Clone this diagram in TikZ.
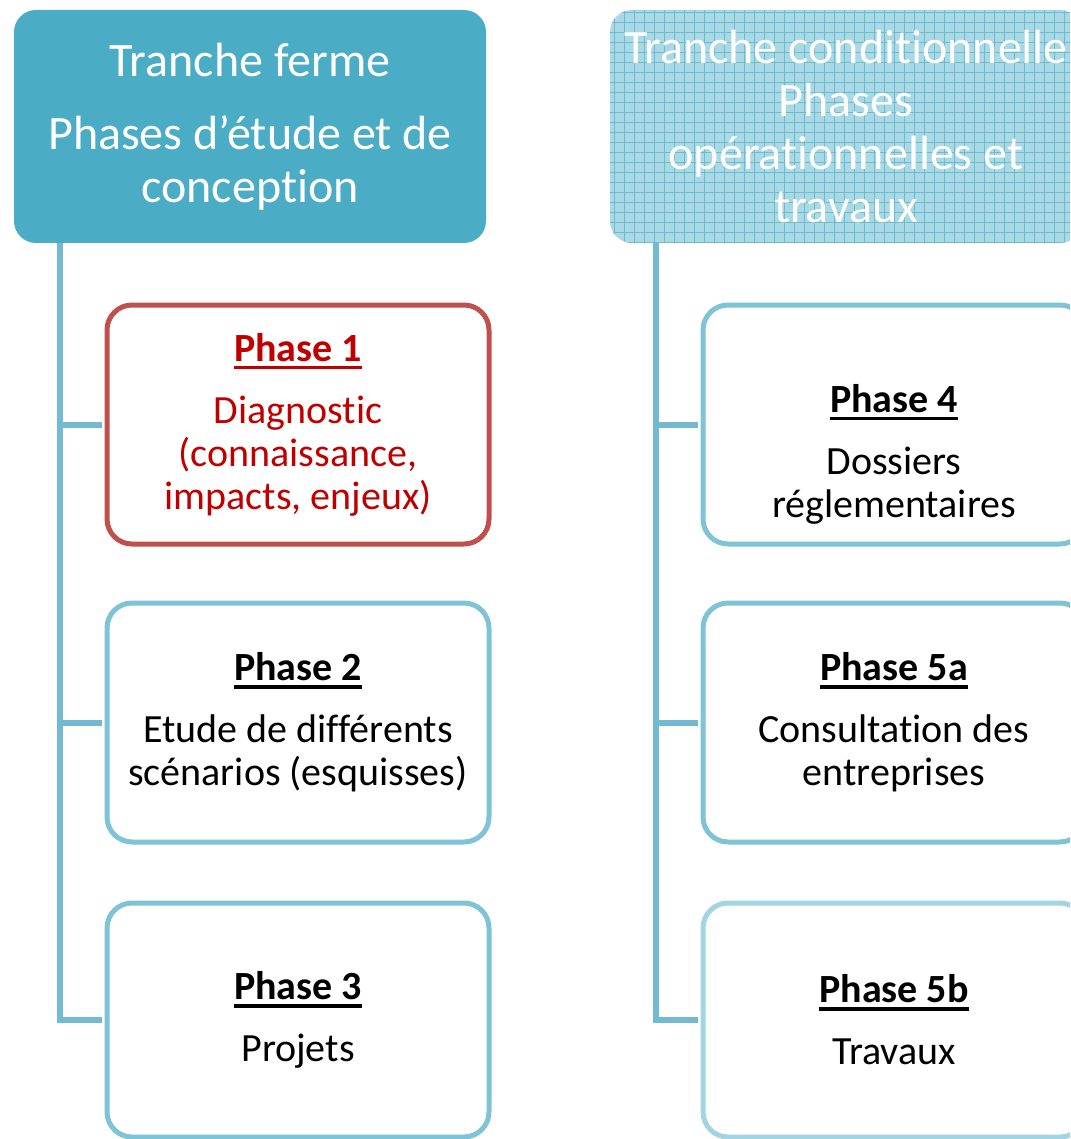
\documentclass[tikz,border=0pt]{standalone}
\usepackage{fontspec}
\setmainfont[Ligatures={NoCommon}]{Carlito}
\definecolor{hdrA}{HTML}{4BACC6}
\definecolor{hdrB}{HTML}{A9D9E5}
\definecolor{gridB}{HTML}{6DBBD1}
\definecolor{linkc}{HTML}{73B9CF}
\definecolor{boxc}{HTML}{7FC3D7}
\definecolor{boxl}{HTML}{A3D4E1}
\definecolor{redb}{HTML}{C0504D}
\definecolor{redt}{HTML}{C00000}
\tikzset{
  hdr/.style={rounded corners=22, minimum width=472, minimum height=233, text=white, align=center, font=\fontsize{48}{53}\selectfont, inner sep=0},
  phbox/.style={draw=boxc, line width=5, rounded corners=25, minimum width=382, minimum height=239, align=center, font=\fontsize{40}{43}\selectfont, fill=white, inner sep=0},
  phtext/.style={align=center, font=\fontsize{40}{43}\selectfont, inner sep=0},
  link/.style={draw=linkc, line width=6},
}
\newsavebox{\ptbox}
\newcommand{\ptitle}[1]{\sbox{\ptbox}{\textbf{#1}}\usebox{\ptbox}\llap{\rule[-8pt]{\wd\ptbox}{3.5pt}}}
\begin{document}
\begin{tikzpicture}[x=1pt,y=-1pt]
\useasboundingbox (0,0) rectangle (1070,1139);
\clip (0,0) rectangle (1070,1139);
% headers
\node[hdr, fill=hdrA] (hL) at (250,126.5) {Tranche ferme\\[20pt]Phases d’étude et de\\conception};
\node[hdr, fill=hdrB, path picture={\draw[gridB, line width=0.9] (path picture bounding box.south west) grid[step=10pt] (path picture bounding box.north east);}] (hR) at (846,126.5) {Tranche conditionnelle\\Phases\\opérationnelles et\\travaux};
% phase boxes
\node[phbox, draw=redb, text=redt] (p1) at (298,424.5) {\ptitle{Phase 1}\\[19pt]Diagnostic\\(connaissance,\\impacts, enjeux)};
\node[phbox] (p2) at (298,722.5) {\ptitle{Phase 2}\\[19pt]Etude de différents\\scénarios (esquisses)};
\node[phbox, minimum height=234] (p3) at (298,1020) {\ptitle{Phase 3}\\[19pt]Projets};
\node[phbox] (p4) at (894,424.5) {};
\node[phtext] (p4t) at (894,454) {\ptitle{Phase 4}\\[19pt]Dossiers\\réglementaires};
\node[phbox] (p5a) at (894,722.5) {\ptitle{Phase 5a}\\[19pt]Consultation des\\entreprises};
\node[phbox, draw=boxl, minimum height=234] (p5b) at (894,1020) {\ptitle{Phase 5b}\\[19pt]Travaux};
% trunks
\coordinate (tL) at (60,243);
\coordinate (tR) at (656,243);
\draw[link] (tL) |- ([xshift=-2.5]p3.west);
\draw[link] (tL |- p1.west) -- ([xshift=-2.5]p1.west);
\draw[link] (tL |- p2.west) -- ([xshift=-2.5]p2.west);
\draw[link] (tR) |- ([xshift=-2.5]p5b.west);
\draw[link] (tR |- p4.west) -- ([xshift=-2.5]p4.west);
\draw[link] (tR |- p5a.west) -- ([xshift=-2.5]p5a.west);
\end{tikzpicture}
\end{document}
